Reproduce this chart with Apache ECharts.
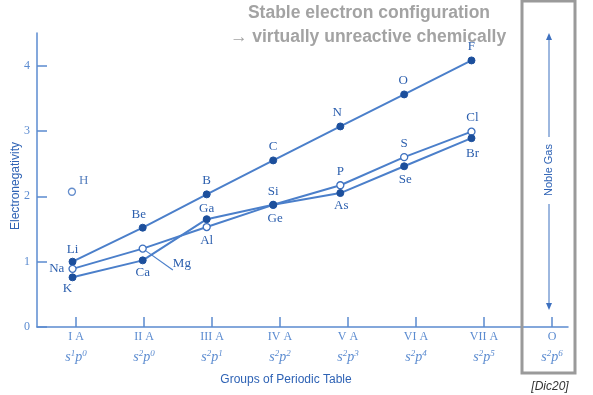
<!DOCTYPE html>
<html><head><meta charset="utf-8">
<script src="https://cdn.jsdelivr.net/npm/echarts@6/dist/echarts.min.js"></script>
<style>html,body{margin:0;padding:0;background:#fff}#c{width:593px;height:395px}</style>
</head><body><div id="c"></div>
<script>
// ---- data ----
const groupLabels = ['I A','II A','III A','IV A','V A','VI A','VII A','O'];
const sValues = ['1','2','2','2','2','2','2','2'];
const pValues = ['0','0','1','2','3','4','5','6'];
const groupTicks = [1,2,3,4,5,6,7,8];
const yTicks = [0,1,2,3,4];
const dotPos = [0.949,1.981,2.922,3.90,4.887,5.826,6.816];
const period2Names = ['Li','Be','B','C','N','O','F'];
const period2Values = [1.00,1.52,2.03,2.55,3.07,3.56,4.08];
const period3Names = ['Na','Mg','Al','Si','P','S','Cl'];
const period3Values = [0.89,1.20,1.53,1.87,2.17,2.60,2.99];
const period4Names = ['K','Ca','Ga','Ge','As','Se','Br'];
const period4Values = [0.76,1.02,1.65,1.87,2.05,2.46,2.89];
const hydrogenName = 'H';
const hydrogenPos = 0.94;
const hydrogenValue = 2.07;

// ---- styles ----
const SERIF = '"Liberation Serif", "DejaVu Serif", serif';
const SANS = '"Liberation Sans", Arial, sans-serif';
const LINE = '#4b7fca';
const DOT = '#1c4f9c';
const TXT = '#2c5fae';
const AX = '#5b8bd0';
const labelStyle = {
  Li:['top',2,[0,0]], Be:['top',3,[-4,0]], B:['top',3,[0,0]], C:['top',3,[0,0]], N:['top',3,[-3,0]], O:['top',3,[-1,0]], F:['top',3,[0,0]],
  Na:['left',4,[0,0]], Mg:['right',5,[21,15]], Al:['bottom',3,[0,0]], Si:['top',3,[0,0]], P:['top',3,[0,0]], S:['top',3,[0,0]], Cl:['top',3,[1,0]],
  K:['bottom',1,[-5,0]], Ca:['bottom',2,[0,0]], Ga:['top',0,[0,0]], Ge:['bottom',3,[2,0]], As:['bottom',2,[1,0]], Se:['bottom',3,[1,0]], Br:['bottom',5,[1,0]]
};

function buildData(names, values) {
  return names.map((n, i) => {
    const ls = labelStyle[n];
    const item = {
      name: n,
      value: [dotPos[i], values[i]],
      label: { position: ls[0], distance: ls[1], offset: ls[2] }
    };
    if (n === 'Mg') {
      item.labelLine = { show: true, lineStyle: { color: LINE, width: 1.2 } };
    }
    return item;
  });
}
function makeSeries(names, values, open) {
  return {
    type: 'line',
    data: buildData(names, values),
    symbol: 'circle',
    symbolSize: 7,
    showAllSymbol: true,
    lineStyle: { color: LINE, width: 2 },
    itemStyle: open ? { color: '#fff', borderColor: '#3d70bf', borderWidth: 1.3 } : { color: DOT, borderColor: DOT, borderWidth: 1 },
    label: { show: true, formatter: p => p.name, fontFamily: SERIF, fontSize: 13, color: TXT },
    emphasis: { disabled: true },
    z: 3,
    animation: false
  };
}

const chart = echarts.init(document.getElementById('c'), null, { renderer: 'canvas' });
const xMin = 1 - 39/68, xMax = 1 + 492/68;
chart.setOption({
  animation: false,
  grid: { left: 37, right: 25, top: 33, bottom: 68, containLabel: false, outerBoundsMode: 'none' },
  xAxis: {
    type: 'value', min: xMin, max: xMax,
    axisLine: { show: true, lineStyle: { color: AX, width: 1.5 } },
    axisTick: { show: true, inside: true, length: 10, customValues: groupTicks, lineStyle: { color: AX, width: 1.5 } },
    splitLine: { show: false },
    axisLabel: {
      customValues: groupTicks, margin: 0, showMinLabel: true, showMaxLabel: true,
      formatter: v => {
        const i = Math.round(v) - 1;
        return '{g|' + groupLabels[i] + '}\n{s|s}{u|' + sValues[i] + '}{s|p}{u|' + pValues[i] + '}';
      },
      rich: {
        g: { fontFamily: SERIF, fontSize: 12, color: AX, lineHeight: 20 },
        s: { fontFamily: SERIF, fontStyle: 'italic', fontSize: 14, color: AX, lineHeight: 20 },
        u: { fontFamily: SERIF, fontStyle: 'italic', fontSize: 9, color: AX, lineHeight: 20, verticalAlign: 'top', padding: [2, 0, 0, 0] }
      }
    }
  },
  yAxis: {
    type: 'value', min: 0, max: 4.5,
    name: 'Electronegativity', nameLocation: 'middle', nameGap: 15, nameRotate: 90, nameMoveOverlap: false,
    nameTextStyle: { fontFamily: SANS, fontSize: 12, color: '#2f63b5', padding: [0, 12, 0, 0] },
    axisLine: { show: true, lineStyle: { color: AX, width: 1.5 } },
    axisTick: { show: true, inside: true, length: 10, customValues: yTicks, lineStyle: { color: AX, width: 1.5 } },
    splitLine: { show: false },
    axisLabel: { customValues: yTicks, margin: 7, fontFamily: SERIF, fontSize: 12, color: AX }
  },
  series: [
    makeSeries(period2Names, period2Values, false),
    makeSeries(period3Names, period3Values, true),
    makeSeries(period4Names, period4Values, false),
    {
      type: 'scatter',
      data: [{ name: hydrogenName, value: [hydrogenPos, hydrogenValue] }],
      symbol: 'circle', symbolSize: 7,
      itemStyle: { color: '#fff', borderColor: '#3d70bf', borderWidth: 1.3 },
      label: { show: true, formatter: p => p.name, position: 'right', distance: 3, offset: [0, -11], fontFamily: SERIF, fontSize: 13, color: TXT },
      emphasis: { disabled: true }, z: 3
    }
  ],
  graphic: [
    { type: 'text', x: 369, y: 13, style: { text: 'Stable electron configuration', fontFamily: SANS, fontWeight: 'bold', fontSize: 17.5, fill: '#a3a3a3', align: 'center', verticalAlign: 'middle' } },
    { type: 'text', x: 368, y: 37, style: { text: '\u2192 virtually unreactive chemically', fontFamily: SANS, fontWeight: 'bold', fontSize: 17.5, fill: '#a3a3a3', align: 'center', verticalAlign: 'middle' } },
    { type: 'rect', shape: { x: 522, y: 1, width: 53, height: 372 }, style: { fill: 'none', stroke: '#9a9a9a', lineWidth: 3 }, z: 10 },
    { type: 'line', shape: { x1: 549, y1: 39, x2: 549, y2: 137 }, style: { stroke: '#3d70bf', lineWidth: 1 } },
    { type: 'polygon', shape: { points: [[549, 33], [546, 40], [552, 40]] }, style: { fill: '#3d70bf' } },
    { type: 'line', shape: { x1: 549, y1: 204, x2: 549, y2: 304 }, style: { stroke: '#3d70bf', lineWidth: 1 } },
    { type: 'polygon', shape: { points: [[549, 310], [546, 303], [552, 303]] }, style: { fill: '#3d70bf' } },
    { type: 'text', x: 549, y: 170, rotation: Math.PI / 2, style: { text: 'Noble Gas', fontFamily: SANS, fontSize: 11, fill: '#2f63b5', align: 'center', verticalAlign: 'middle' } },
    { type: 'text', x: 286, y: 380, style: { text: 'Groups of Periodic Table', fontFamily: SANS, fontSize: 12, fill: '#2f63b5', align: 'center', verticalAlign: 'middle' } },
    { type: 'text', x: 550, y: 387, style: { text: '[Dic20]', fontFamily: SANS, fontStyle: 'italic', fontSize: 12, fill: '#333', align: 'center', verticalAlign: 'middle' } }
  ]
});
</script></body></html>
